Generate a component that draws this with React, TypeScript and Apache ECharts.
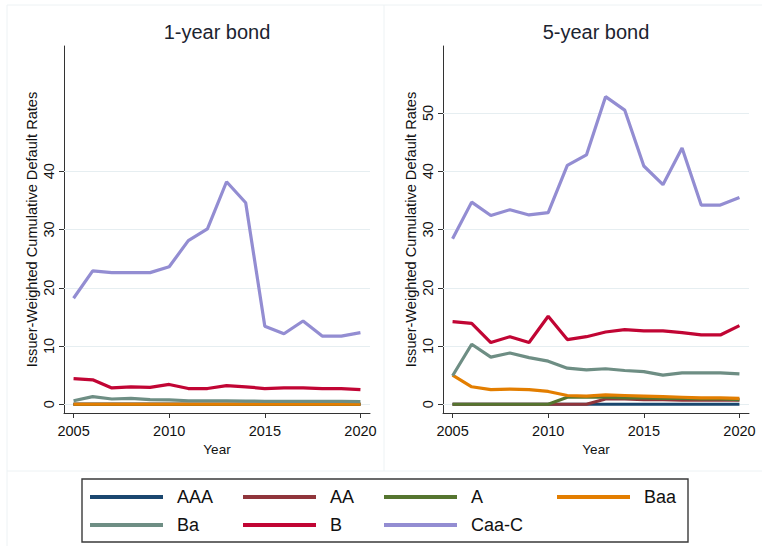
import React, { useEffect, useRef } from "react";
import * as echarts from "echarts";

// Year axis
const years = [2005, 2006, 2007, 2008, 2009, 2010, 2011, 2012, 2013, 2014, 2015, 2016, 2017, 2018, 2019, 2020];

// Rating classes and their colours
const ratings = ["AAA", "AA", "A", "Baa", "Ba", "B", "Caa-C"];
const ratingColors = ["#1a476f", "#90353b", "#55752f", "#e37e00", "#6e8e84", "#c10534", "#938dd2"];

// 1-year issuer-weighted cumulative default rates (%)
const oneYearAAA = [0, 0, 0, 0, 0, 0, 0, 0, 0, 0, 0, 0, 0, 0, 0, 0];
const oneYearAA = [0, 0, 0, 0, 0, 0, 0, 0, 0, 0, 0, 0, 0, 0, 0, 0];
const oneYearA = [0, 0, 0, 0, 0, 0, 0, 0, 0, 0, 0, 0, 0, 0, 0, 0];
const oneYearBaa = [0, 0, 0, 0, 0, 0, 0, 0, 0, 0, 0, 0, 0, 0, 0, 0];
const oneYearBa = [0.6, 1.3, 0.9, 1.0, 0.8, 0.75, 0.6, 0.6, 0.6, 0.55, 0.5, 0.5, 0.5, 0.5, 0.5, 0.45];
const oneYearB = [4.4, 4.2, 2.8, 3.0, 2.9, 3.4, 2.7, 2.7, 3.2, 3.0, 2.7, 2.8, 2.8, 2.7, 2.7, 2.5];
const oneYearCaaC = [18.2, 22.9, 22.6, 22.6, 22.6, 23.6, 28.1, 30.1, 38.2, 34.6, 13.4, 12.1, 14.3, 11.7, 11.7, 12.3];

// 5-year issuer-weighted cumulative default rates (%)
const fiveYearAAA = [0, 0, 0, 0, 0, 0, 0, 0, 0, 0, 0, 0, 0, 0, 0, 0];
const fiveYearAA = [0, 0, 0, 0, 0, 0, 0, 0, 0.9, 0.9, 0.8, 0.8, 0.7, 0.7, 0.7, 0.7];
const fiveYearA = [0, 0, 0, 0, 0, 0, 1.2, 1.2, 1.2, 1.1, 1.1, 1.0, 1.0, 0.9, 0.9, 0.8];
const fiveYearBaa = [5.0, 3.0, 2.5, 2.6, 2.5, 2.2, 1.5, 1.4, 1.6, 1.5, 1.4, 1.3, 1.2, 1.1, 1.1, 1.0];
const fiveYearBa = [4.9, 10.3, 8.1, 8.8, 8.0, 7.4, 6.2, 5.9, 6.1, 5.8, 5.6, 5.0, 5.4, 5.4, 5.4, 5.2];
const fiveYearB = [14.2, 13.9, 10.6, 11.6, 10.6, 15.1, 11.1, 11.6, 12.4, 12.8, 12.6, 12.6, 12.3, 11.9, 11.9, 13.5];
const fiveYearCaaC = [28.4, 34.7, 32.4, 33.4, 32.5, 32.9, 41.0, 42.8, 52.8, 50.5, 40.9, 37.7, 44.0, 34.2, 34.2, 35.5];

// Axis ticks
const yearTicks = [2005, 2010, 2015, 2020];
const oneYearRateTicks = [0, 10, 20, 30, 40];
const fiveYearRateTicks = [0, 10, 20, 30, 40, 50];

const panelTitles = ["1-year bond", "5-year bond"];
const yAxisTitle = "Issuer-Weighted Cumulative Default Rates";
const xAxisTitle = "Year";

const FONT = "'Liberation Sans', Arial, Helvetica, sans-serif";
const TEXT_COLOR = "#111";
const AXIS_COLOR = "#333";
const GRID_COLOR = "#e6eef1";
const FRAME_COLOR = "#edf2f4";

const panelGrids = [
  { left: 64, top: 46, width: 306, height: 367 },
  { left: 443, top: 46, width: 306, height: 367 },
];

function buildOption() {
  const panels = [
    [oneYearAAA, oneYearAA, oneYearA, oneYearBaa, oneYearBa, oneYearB, oneYearCaaC],
    [fiveYearAAA, fiveYearAA, fiveYearA, fiveYearBaa, fiveYearBa, fiveYearB, fiveYearCaaC],
  ];
  const tickSets = [oneYearRateTicks, fiveYearRateTicks];

  const xAxes = panelGrids.map((_, i) => ({
    type: "value",
    gridIndex: i,
    min: 2004.5,
    max: 2020.5,
    name: xAxisTitle,
    nameLocation: "middle",
    nameGap: 26,
    nameTextStyle: { fontFamily: FONT, fontSize: 13.5, color: TEXT_COLOR },
    axisLine: { show: true, onZero: false, lineStyle: { color: AXIS_COLOR, width: 1 } },
    axisTick: { show: true, length: 5, customValues: yearTicks, lineStyle: { color: AXIS_COLOR } },
    axisLabel: {
      customValues: yearTicks,
      margin: 10,
      fontFamily: FONT,
      fontSize: 14.5,
      color: TEXT_COLOR,
      formatter: (v: number) => String(v),
    },
    splitLine: { show: false },
  }));

  const yAxes = panelGrids.map((_, i) => ({
    type: "value",
    gridIndex: i,
    min: -1.5,
    max: 61.5,
    name: yAxisTitle,
    nameLocation: "middle",
    nameGap: 25,
    nameRotate: 90,
    nameTextStyle: { fontFamily: FONT, fontSize: 14.6, color: TEXT_COLOR },
    axisLine: { show: true, lineStyle: { color: AXIS_COLOR, width: 1 } },
    axisTick: { show: true, length: 5, customValues: tickSets[i], lineStyle: { color: AXIS_COLOR } },
    axisLabel: {
      customValues: tickSets[i],
      rotate: 90,
      margin: 8,
      fontFamily: FONT,
      fontSize: 14.5,
      color: TEXT_COLOR,
    },
    splitLine: { show: false },
  }));

  const series: any[] = [];
  panels.forEach((panel, p) => {
    panel.forEach((values, r) => {
      const s: any = {
        name: ratings[r],
        type: "line",
        xAxisIndex: p,
        yAxisIndex: p,
        data: years.map((y, k) => [y, values[k]]),
        showSymbol: false,
        symbol: "none",
        color: ratingColors[r],
        lineStyle: { color: ratingColors[r], width: 3.2 },
        z: 2 + r,
      };
      if (r === 0) {
        // Horizontal gridlines at each labelled rate
        s.markLine = {
          silent: true,
          symbol: "none",
          label: { show: false },
          z: 1,
          lineStyle: { color: GRID_COLOR, width: 1, type: "solid" },
          data: tickSets[p].map((v) => ({ yAxis: v })),
        };
      }
      series.push(s);
    });
  });

  // Legend laid out as four columns of two rows
  const legendColumns = [
    { left: 90, data: ["AAA", "Ba"] },
    { left: 243, data: ["AA", "B"] },
    { left: 384, data: ["A", "Caa-C"] },
    { left: 557, data: ["Baa"] },
  ];
  const legends = legendColumns.map((c) => ({
    left: c.left,
    top: 488,
    orient: "vertical",
    data: c.data,
    icon: "rect",
    itemWidth: 73,
    itemHeight: 4,
    itemGap: 10,
    padding: 0,
    selectedMode: false,
    textStyle: {
      fontFamily: FONT,
      fontSize: 18,
      lineHeight: 18,
      color: TEXT_COLOR,
      padding: [0, 0, 0, 9],
    },
  }));

  const graphics: any[] = [
    // outer frame and panel separators
    { type: "line", shape: { x1: 7, y1: 5, x2: 762, y2: 5 }, style: { stroke: FRAME_COLOR, lineWidth: 1 }, silent: true },
    { type: "line", shape: { x1: 7, y1: 5, x2: 7, y2: 546 }, style: { stroke: FRAME_COLOR, lineWidth: 1 }, silent: true },
    { type: "line", shape: { x1: 384, y1: 5, x2: 384, y2: 471 }, style: { stroke: FRAME_COLOR, lineWidth: 1 }, silent: true },
    { type: "line", shape: { x1: 7, y1: 471, x2: 762, y2: 471 }, style: { stroke: FRAME_COLOR, lineWidth: 1 }, silent: true },
    // legend box
    {
      type: "rect",
      shape: { x: 82, y: 479, width: 606, height: 63 },
      style: { fill: "none", stroke: "#3a3a3a", lineWidth: 1.4 },
      silent: true,
    },
  ];
  panelGrids.forEach((g, i) => {
    graphics.push({
      type: "text",
      x: g.left + g.width / 2,
      y: 32,
      style: {
        text: panelTitles[i],
        fontFamily: FONT,
        fontSize: 20,
        fill: "#1c2430",
        align: "center",
        verticalAlign: "middle",
      },
      silent: true,
    });
  });

  return {
    animation: false,
    backgroundColor: "#ffffff",
    grid: panelGrids.map((g) => ({ ...g, containLabel: false })),
    xAxis: xAxes,
    yAxis: yAxes,
    legend: legends,
    series,
    graphic: graphics,
  };
}

export default function App() {
  const ref = useRef<HTMLDivElement>(null);

  useEffect(() => {
    document.body.style.margin = "0";
    if (!ref.current) return;
    const chart = echarts.init(ref.current, null, { renderer: "svg" });
    chart.setOption(buildOption() as any);
    return () => chart.dispose();
  }, []);

  return <div ref={ref} style={{ width: 762, height: 546, background: "#fff" }} />;
}
